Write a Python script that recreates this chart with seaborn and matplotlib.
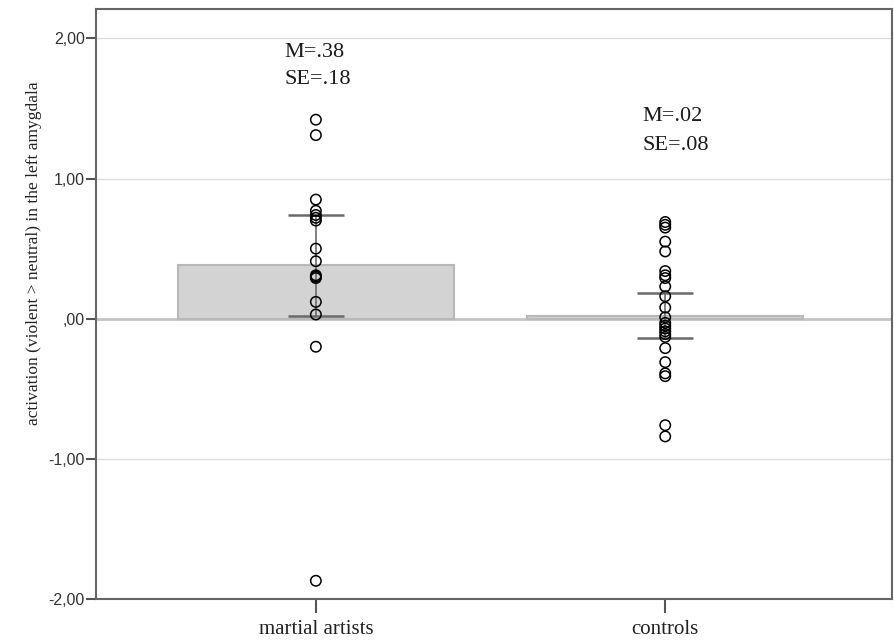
import matplotlib
matplotlib.use('Agg')
import matplotlib.pyplot as plt
import seaborn as sns
import pandas

groups = ['martial artists', 'controls']
means = [0.38, 0.02]
std_errors = [0.18, 0.08]
mean_labels = ['M=.38', 'M=.02']
se_labels = ['SE=.18', 'SE=.08']

martial_values = [1.42, 1.31, 0.85, 0.77, 0.74, 0.72, 0.70, 0.50, 0.41,
                  0.31, 0.30, 0.29, 0.12, 0.03, -0.20, -1.87]
control_values = [0.69, 0.67, 0.65, 0.55, 0.48, 0.34, 0.31, 0.29, 0.23,
                  0.16, 0.08, 0.01, -0.03, -0.05, -0.07, -0.09, -0.11,
                  -0.13, -0.21, -0.31, -0.39, -0.41, -0.76, -0.84]

y_ticks = [-2, -1, 0, 1, 2]
y_tick_labels = ['-2,00', '-1,00', ',00', '1,00', '2,00']
y_label = 'activation (violent > neutral) in the left amygdala'

sns.set_style('white')
plt.rcParams['font.family'] = ['Liberation Serif', 'DejaVu Serif']

points = pandas.DataFrame({
    'group': [groups[0]] * len(martial_values) + [groups[1]] * len(control_values),
    'value': martial_values + control_values,
})
bars = pandas.DataFrame({'group': groups, 'mean': means})

fig, ax = plt.subplots(figsize=(8.95, 6.42), dpi=100)
fig.subplots_adjust(left=0.107, right=0.997, bottom=0.067, top=0.986)

for y in [-1, 1, 2]:
    ax.axhline(y, color='#dcdcdc', linewidth=1.0, zorder=0)
ax.axhline(0, color='#c4c4c4', linewidth=2.0, zorder=1)

sns.barplot(data=bars, x='group', y='mean', order=groups, color='#d3d3d3',
            edgecolor='#b8b8b8', linewidth=1.5, width=0.79, saturation=1,
            errorbar=None, ax=ax, zorder=2)

ax.errorbar(x=[0, 1], y=means, yerr=[2 * se for se in std_errors], fmt='none',
            ecolor='#6a6a6a', elinewidth=1.2, capsize=20, capthick=1.8, zorder=3)

sns.stripplot(data=points, x='group', y='value', order=groups, jitter=False,
              marker='o', size=7.5, linewidth=1.1, edgecolor='black',
              color='black', ax=ax, zorder=4)
for coll in ax.collections:
    if len(coll.get_offsets()) > 2:
        coll.set_facecolor('none')
        coll.set_edgecolor('black')

# annotation placement: x offset from the category, y centres of the two lines
text_dx = [-0.089, -0.066]
mean_y = [1.90, 1.44]
se_y = [1.71, 1.235]
for i, (m_txt, se_txt) in enumerate(zip(mean_labels, se_labels)):
    ax.text(i + text_dx[i], mean_y[i], m_txt, fontsize=16, va='center', ha='left',
            color='#1a1a1a')
    ax.text(i + text_dx[i], se_y[i], se_txt, fontsize=16, va='center', ha='left',
            color='#1a1a1a')

ax.set_xlim(-0.63, 1.65)
ax.set_ylim(-2.0, 2.21)
ax.set_yticks(y_ticks)
ax.set_yticklabels(y_tick_labels, family=['Liberation Sans', 'DejaVu Sans'],
                   fontsize=11.5, color='#333333')
ax.tick_params(axis='x', labelsize=15, length=10, width=1.5, color='#555555',
               direction='out', bottom=True, labelcolor='#222222', pad=5)
ax.tick_params(axis='y', length=7, width=1.5, color='#555555', direction='out',
               left=True, pad=1)
ax.set_xlabel('')
ax.set_ylabel(y_label, fontsize=12.5, color='#222222')
ax.yaxis.set_label_coords(-0.068, 0.586)
for spine in ax.spines.values():
    spine.set_visible(True)
    spine.set_color('#666666')
    spine.set_linewidth(1.5)

fig.savefig('out.png', dpi=100)
